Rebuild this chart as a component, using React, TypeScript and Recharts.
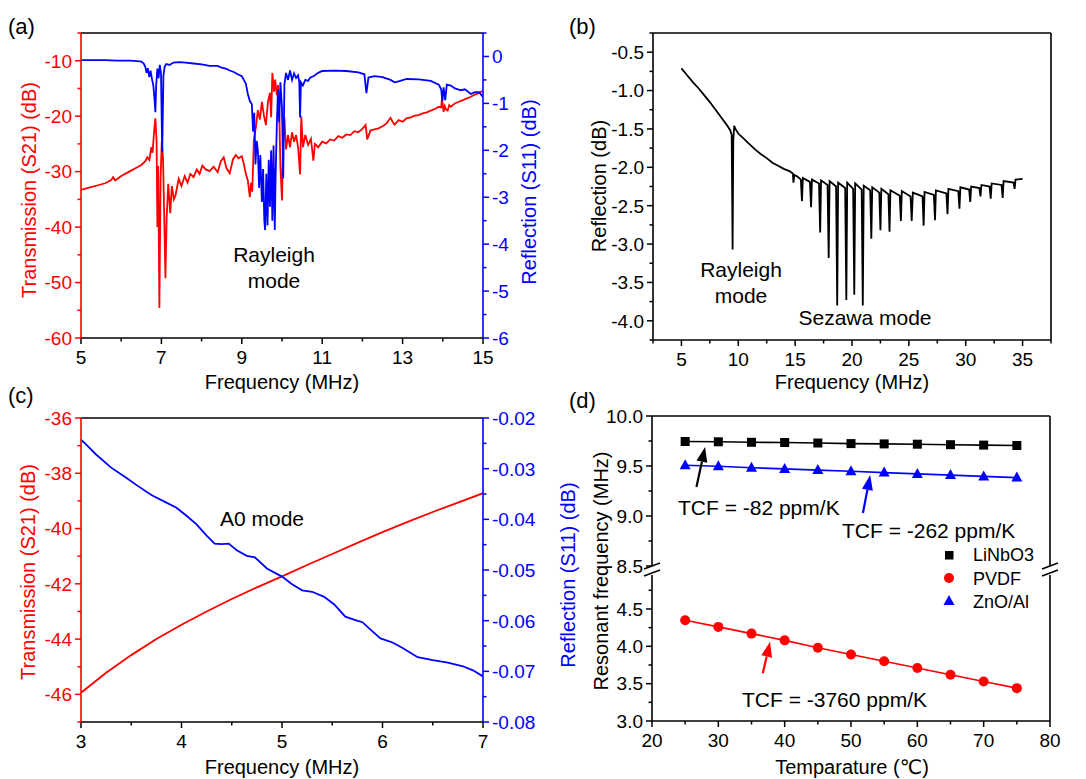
import React from 'react';
import { LineChart, Line, XAxis, YAxis, ReferenceLine } from 'recharts';

const FONT = '"Liberation Sans", Arial, Helvetica, "DejaVu Sans", "Noto Sans CJK SC", sans-serif';
const RED = '#ff0000';
const BLUE = '#0000ff';
const BLACK = '#000000';

// ---------- Panel (a): Transmission S21 / Reflection S11 (5-15 MHz) ----------
const aS21Points: [number, number][] = [
  [5.0,-33.3],[5.2,-32.9],[5.4,-32.5],[5.6,-32.1],[5.75,-31.5],[5.8,-31.0],[5.85,-31.6],[6.0,-30.8],[6.2,-30.0],[6.4,-29.2],
  [6.5,-28.8],[6.6,-28.1],[6.65,-27.4],[6.7,-27.9],[6.75,-25.6],[6.78,-26.6],[6.82,-22.6],[6.85,-20.4],[6.88,-24.5],[6.9,-40.0],
  [6.92,-29.0],[6.95,-54.6],[6.98,-31.0],[7.01,-24.5],[7.04,-27.5],[7.07,-38.0],[7.1,-49.2],[7.13,-38.5],[7.17,-32.2],[7.22,-37.5],
  [7.26,-32.6],[7.31,-35.0],[7.35,-34.3],[7.43,-31.3],[7.5,-32.6],[7.58,-30.8],[7.65,-32.0],[7.72,-30.4],[7.8,-31.0],[7.88,-29.6],
  [7.95,-30.4],[8.02,-28.9],[8.1,-29.6],[8.2,-29.9],[8.3,-29.1],[8.4,-30.1],[8.48,-28.1],[8.55,-27.4],[8.62,-29.4],[8.7,-30.3],
  [8.78,-27.8],[8.85,-27.0],[8.92,-27.6],[9.0,-27.2],[9.05,-28.6],[9.1,-30.4],[9.15,-31.6],[9.2,-34.6],[9.23,-32.0],[9.26,-33.6],
  [9.3,-24.2],[9.35,-22.0],[9.4,-18.9],[9.45,-20.6],[9.5,-17.4],[9.55,-19.9],[9.6,-21.6],[9.65,-17.4],[9.7,-15.8],[9.73,-20.2],
  [9.76,-12.2],[9.8,-15.6],[9.83,-13.4],[9.87,-16.2],[9.9,-14.4],[9.93,-18.6],[9.96,-29.0],[10.0,-35.2],[10.03,-24.0],[10.06,-20.3],
  [10.1,-26.0],[10.15,-23.4],[10.2,-25.6],[10.25,-22.9],[10.3,-24.6],[10.35,-23.4],[10.4,-25.6],[10.45,-30.5],[10.48,-20.0],[10.52,-25.6],
  [10.58,-23.4],[10.65,-25.2],[10.72,-24.1],[10.78,-28.0],[10.82,-25.0],[10.9,-25.6],[11.0,-24.6],[11.1,-24.9],[11.2,-24.2],[11.3,-24.4],
  [11.4,-23.6],[11.5,-23.9],[11.6,-23.3],[11.7,-23.4],[11.8,-22.7],[11.9,-22.9],[12.0,-22.3],[12.08,-21.6],[12.12,-24.2],[12.2,-22.6],
  [12.3,-22.4],[12.4,-22.2],[12.5,-21.8],[12.6,-21.3],[12.7,-20.3],[12.75,-21.0],[12.8,-21.5],[12.9,-20.7],[13.0,-21.0],[13.1,-20.4],
  [13.2,-20.2],[13.3,-19.9],[13.4,-19.8],[13.5,-19.5],[13.6,-19.3],[13.7,-19.0],[13.8,-18.7],[13.9,-18.3],[13.96,-18.4],[13.98,-16.8],
  [14.02,-19.2],[14.05,-18.2],[14.08,-18.8],[14.12,-19.0],[14.16,-18.0],[14.2,-18.3],[14.3,-17.7],[14.4,-17.4],[14.5,-17.1],[14.6,-16.8],
  [14.7,-16.5],[14.8,-16.1],[14.9,-15.8],[15.0,-15.4],
];
const aS11Points: [number, number][] = [
  [5.0,-0.08],[5.3,-0.08],[5.6,-0.08],[5.9,-0.09],[6.2,-0.09],[6.4,-0.1],[6.5,-0.11],[6.56,-0.15],[6.6,-0.22],[6.63,-0.35],
  [6.66,-0.25],[6.7,-0.44],[6.73,-0.3],[6.77,-0.5],[6.8,-0.62],[6.83,-0.92],[6.85,-1.19],[6.87,-0.62],[6.9,-0.26],[6.93,-0.46],
  [6.96,-0.18],[6.99,-0.36],[7.02,-2.04],[7.05,-0.42],[7.08,-0.22],[7.12,-0.16],[7.2,-0.18],[7.3,-0.13],[7.45,-0.12],[7.6,-0.13],
  [7.8,-0.15],[8.0,-0.17],[8.2,-0.2],[8.4,-0.2],[8.5,-0.24],[8.6,-0.26],[8.7,-0.3],[8.8,-0.33],[8.9,-0.38],[9.0,-0.42],
  [9.05,-0.5],[9.1,-0.58],[9.15,-0.8],[9.2,-0.95],[9.25,-1.02],[9.28,-1.6],[9.31,-1.2],[9.34,-2.3],[9.37,-1.8],[9.4,-2.0],
  [9.43,-2.8],[9.46,-2.1],[9.5,-3.1],[9.53,-2.4],[9.56,-3.5],[9.58,-3.7],[9.61,-2.5],[9.64,-3.6],[9.67,-2.2],[9.7,-3.2],
  [9.73,-2.0],[9.76,-3.5],[9.79,-1.9],[9.82,-3.7],[9.84,-2.6],[9.87,-1.5],[9.9,-0.7],[9.93,-1.4],[9.96,-0.55],[10.0,-1.1],
  [10.03,-2.6],[10.06,-0.6],[10.1,-0.35],[10.15,-0.5],[10.2,-0.3],[10.25,-0.5],[10.3,-0.36],[10.35,-0.46],[10.4,-0.4],[10.43,-0.55],
  [10.45,-1.3],[10.47,-0.55],[10.52,-0.62],[10.58,-0.5],[10.65,-0.52],[10.7,-0.45],[10.8,-0.41],[10.9,-0.35],[11.0,-0.31],[11.3,-0.3],
  [11.6,-0.31],[11.9,-0.34],[12.05,-0.38],[12.1,-0.78],[12.15,-0.45],[12.3,-0.42],[12.5,-0.44],[12.7,-0.5],[12.8,-0.55],[12.9,-0.53],
  [13.1,-0.48],[13.4,-0.49],[13.7,-0.52],[13.9,-0.6],[13.96,-0.7],[13.99,-0.95],[14.02,-0.66],[14.06,-0.93],[14.1,-0.6],[14.2,-0.62],
  [14.3,-0.68],[14.45,-0.72],[14.55,-0.7],[14.7,-0.8],[14.8,-0.76],[14.9,-0.76],[15.0,-0.86],
];
const aXTicks = [5, 6, 7, 8, 9, 10, 11, 12, 13, 14, 15];
const aXMajor = [5, 7, 9, 11, 13, 15];
const aLeftTicks = [-60, -55, -50, -45, -40, -35, -30, -25, -20, -15, -10, -5];
const aLeftMajor = [-60, -50, -40, -30, -20, -10];
const aRightTicks = [-6, -5.5, -5, -4.5, -4, -3.5, -3, -2.5, -2, -1.5, -1, -0.5, 0, 0.5];
const aRightMajor = [-6, -5, -4, -3, -2, -1, 0];

// ---------- Panel (b): Reflection (5-35 MHz) ----------
const bReflPoints: [number, number][] = [
  [5.0,-0.71],[5.5,-0.8],[6.0,-0.89],[6.5,-0.97],[7.0,-1.06],[7.5,-1.15],[8.0,-1.25],[8.5,-1.35],[9.0,-1.45],[9.3,-1.52],
  [9.42,-1.58],[9.5,-3.07],[9.56,-1.65],[9.64,-1.46],[9.75,-1.5],[10.0,-1.56],[10.5,-1.63],[11.0,-1.7],[11.5,-1.77],[12.0,-1.83],
  [12.5,-1.88],[13.0,-1.94],[13.5,-1.98],[14.0,-2.02],[14.5,-2.05],[14.8,-2.08],[14.85,-2.2],[14.92,-2.1],[15.2,-2.12],[15.5,-2.16],
  [15.6,-2.44],[15.68,-2.14],[16.3,-2.19],[16.4,-2.52],[16.48,-2.16],[17.1,-2.21],[17.2,-2.85],[17.28,-2.17],[17.85,-2.23],[17.95,-3.18],
  [18.03,-2.18],[18.6,-2.25],[18.7,-3.8],[18.78,-2.2],[19.4,-2.27],[19.5,-3.73],[19.58,-2.2],[20.1,-2.28],[20.2,-3.66],[20.28,-2.21],
  [20.85,-2.29],[20.95,-3.8],[21.03,-2.24],[21.6,-2.3],[21.7,-2.93],[21.78,-2.26],[22.4,-2.33],[22.5,-2.82],[22.58,-2.28],[23.2,-2.35],
  [23.3,-2.84],[23.38,-2.3],[24.2,-2.37],[24.3,-2.7],[24.38,-2.31],[25.15,-2.38],[25.25,-2.7],[25.35,-2.33],[26.2,-2.38],[26.3,-2.76],
  [26.38,-2.32],[27.2,-2.36],[27.3,-2.69],[27.38,-2.3],[28.3,-2.34],[28.4,-2.61],[28.48,-2.28],[29.35,-2.31],[29.45,-2.54],[29.53,-2.26],
  [30.3,-2.29],[30.4,-2.45],[30.48,-2.25],[31.2,-2.27],[31.3,-2.38],[31.38,-2.23],[32.1,-2.25],[32.2,-2.41],[32.28,-2.21],[33.15,-2.23],
  [33.25,-2.4],[33.33,-2.18],[34.2,-2.2],[34.3,-2.28],[34.38,-2.16],[35.0,-2.15],
];
const bXTicks = [2.5, 5, 7.5, 10, 12.5, 15, 17.5, 20, 22.5, 25, 27.5, 30, 32.5, 35, 37.5];
const bXMajor = [5, 10, 15, 20, 25, 30, 35];
const bYTicks = [-4.25, -4, -3.75, -3.5, -3.25, -3, -2.75, -2.5, -2.25, -2, -1.75, -1.5, -1.25, -1, -0.75, -0.5, -0.25];
const bYMajor = [-4, -3.5, -3, -2.5, -2, -1.5, -1, -0.5];

// ---------- Panel (c): A0 mode (3-7 MHz) ----------
const cS21Points: [number, number][] = [
  [3.0,-45.94],[3.25,-45.22],[3.5,-44.58],[3.75,-44.0],[4.0,-43.48],[4.25,-43.0],[4.5,-42.55],[4.75,-42.13],[5.0,-41.73],
  [5.25,-41.32],[5.5,-40.92],[5.75,-40.52],[6.0,-40.13],[6.25,-39.76],[6.5,-39.4],[6.75,-39.06],[7.0,-38.72],
];
const cS11Points: [number, number][] = [
  [3.0,-0.0243],[3.05,-0.0252],[3.15,-0.0272],[3.3,-0.0298],[3.45,-0.0318],[3.55,-0.0332],[3.7,-0.0352],[3.85,-0.0367],
  [3.95,-0.0377],[4.05,-0.0393],[4.15,-0.041],[4.25,-0.0432],[4.33,-0.0448],[4.4,-0.0449],[4.47,-0.0448],[4.55,-0.0461],
  [4.65,-0.0472],[4.73,-0.0475],[4.85,-0.0497],[5.0,-0.0513],[5.1,-0.0528],[5.2,-0.054],[5.3,-0.0543],[5.42,-0.0553],
  [5.52,-0.0568],[5.63,-0.0592],[5.73,-0.0599],[5.8,-0.0603],[5.9,-0.0621],[5.98,-0.0635],[6.1,-0.0643],[6.2,-0.0654],
  [6.35,-0.0672],[6.5,-0.0678],[6.65,-0.0683],[6.8,-0.069],[6.9,-0.0698],[7.0,-0.071],
];
const cXTicks = [3, 3.5, 4, 4.5, 5, 5.5, 6, 6.5, 7];
const cXMajor = [3, 4, 5, 6, 7];
const cLeftTicks = [-47, -46, -45, -44, -43, -42, -41, -40, -39, -38, -37, -36];
const cLeftMajor = [-46, -44, -42, -40, -38, -36];
const cRightTicks = [-0.08, -0.075, -0.07, -0.065, -0.06, -0.055, -0.05, -0.045, -0.04, -0.035, -0.03, -0.025, -0.02];
const cRightMajor = [-0.08, -0.07, -0.06, -0.05, -0.04, -0.03, -0.02];

// ---------- Panel (d): Resonant frequency vs temperature ----------
const dTemps = [25, 30, 35, 40, 45, 50, 55, 60, 65, 70, 75];
const dLiNbO3 = [9.745, 9.742, 9.737, 9.735, 9.730, 9.724, 9.721, 9.718, 9.713, 9.709, 9.705];
const dPVDF = [4.35, 4.26, 4.17, 4.08, 3.98, 3.89, 3.80, 3.71, 3.62, 3.53, 3.44];
const dZnOAl = [9.508, 9.497, 9.483, 9.471, 9.459, 9.447, 9.434, 9.421, 9.409, 9.396, 9.384];
const dSeriesNames = ['LiNbO3', 'PVDF', 'ZnO/Al'];
const dXTicks = [20, 25, 30, 35, 40, 45, 50, 55, 60, 65, 70, 75, 80];
const dXMajor = [20, 30, 40, 50, 60, 70, 80];
const dUpperTicks = [8.5, 8.75, 9, 9.25, 9.5, 9.75, 10];
const dUpperMajor = [8.5, 9, 9.5, 10];
const dLowerTicks = [3, 3.25, 3.5, 3.75, 4, 4.25, 4.5, 4.75];
const dLowerMajor = [3, 3.5, 4, 4.5];
// annotation arrows in data coordinates: [tailT, tailF, headT, headF]
const dArrowLi = [26.7, 9.29, 28.0, 9.69];
const dArrowZn = [51.8, 9.03, 52.9, 9.41];
const dArrowPv = [36.7, 3.64, 37.8, 4.06];

const toXY = (pts: [number, number][]) => pts.map(([f, v]) => ({ f, v }));
const aS21Data = toXY(aS21Points);
const aS11Data = toXY(aS11Points);
const bReflData = toXY(bReflPoints);
const cS21Data = toXY(cS21Points);
const cS11Data = toXY(cS11Points);
const dUpperData = dTemps.map((t, i) => ({ t, li: dLiNbO3[i], zn: dZnOAl[i] }));
const dLowerData = dTemps.map((t, i) => ({ t, pv: dPVDF[i] }));

type Orient = 'left' | 'right' | 'bottom';
function makeTick(orient: Orient, majors: number[], digits: number, color: string) {
  const TickShape = (props: any) => {
    const { x, y, payload } = props;
    const v = Number(payload && payload.value);
    const major = majors.some((m) => Math.abs(m - v) < 1e-6);
    const len = major ? 6 : 3.5;
    const label = major ? v.toFixed(digits) : '';
    const txt = { fill: color, fontSize: 19, fontFamily: FONT } as any;
    if (orient === 'left') {
      return (
        <g>
          <line x1={x} y1={y} x2={x - len} y2={y} stroke={color} strokeWidth={1.5} />
          {major ? <text x={x - 9} y={y} dy="0.36em" textAnchor="end" {...txt}>{label}</text> : null}
        </g>
      );
    }
    if (orient === 'right') {
      return (
        <g>
          <line x1={x} y1={y} x2={x + len} y2={y} stroke={color} strokeWidth={1.5} />
          {major ? <text x={x + 9} y={y} dy="0.36em" textAnchor="start" {...txt}>{label}</text> : null}
        </g>
      );
    }
    return (
      <g>
        <line x1={x} y1={y} x2={x} y2={y + len} stroke={color} strokeWidth={1.5} />
        {major ? <text x={x} y={y + 12} dy="0.72em" textAnchor="middle" {...txt}>{label}</text> : null}
      </g>
    );
  };
  return TickShape;
}

const makeArrow = (color: string) => (props: any) => {
  const { x1, y1, x2, y2 } = props;
  if ([x1, y1, x2, y2].some((n) => typeof n !== 'number' || isNaN(n))) return <g />;
  const ang = Math.atan2(y2 - y1, x2 - x1);
  const L = 15;
  const W = 5.5;
  const bx = x2 - L * Math.cos(ang);
  const by = y2 - L * Math.sin(ang);
  const px = -Math.sin(ang) * W;
  const py = Math.cos(ang) * W;
  return (
    <g>
      <line x1={x1} y1={y1} x2={bx} y2={by} stroke={color} strokeWidth={2.2} />
      <polygon points={`${x2},${y2} ${bx + px},${by + py} ${bx - px},${by - py}`} fill={color} />
    </g>
  );
};

const SquareDot = (props: any) => {
  const { cx, cy, index } = props;
  if (typeof cx !== 'number' || typeof cy !== 'number') return <g key={`s${index}`} />;
  return <rect key={`s${index}`} x={cx - 4.5} y={cy - 4.5} width={9} height={9} fill={BLACK} />;
};
const CircleDot = (props: any) => {
  const { cx, cy, index } = props;
  if (typeof cx !== 'number' || typeof cy !== 'number') return <g key={`c${index}`} />;
  return <circle key={`c${index}`} cx={cx} cy={cy} r={5} fill={RED} />;
};
const TriDot = (props: any) => {
  const { cx, cy, index } = props;
  if (typeof cx !== 'number' || typeof cy !== 'number') return <g key={`t${index}`} />;
  return <polygon key={`t${index}`} points={`${cx},${cy - 6} ${cx - 5.5},${cy + 4} ${cx + 5.5},${cy + 4}`} fill={BLUE} />;
};

const axisBlack = { stroke: BLACK, strokeWidth: 1.6 };
const axisRed = { stroke: RED, strokeWidth: 1.6 };
const axisBlue = { stroke: BLUE, strokeWidth: 1.6 };

const abs = (left: number, top: number): React.CSSProperties => ({ position: 'absolute', left, top });

function PanelA() {
  return (
    <div style={abs(0, 0)}>
      <LineChart width={540} height={390} margin={{ top: 33, right: 0, bottom: 0, left: 0 }}>
        <XAxis type="number" dataKey="f" domain={[5, 15]} ticks={aXTicks} interval={0} allowDataOverflow
          height={52} tickSize={0} tickMargin={0} tickLine={false} axisLine={axisBlack}
          tick={makeTick('bottom', aXMajor, 0, BLACK)} />
        <YAxis yAxisId="l" type="number" domain={[-60, -5]} ticks={aLeftTicks} interval={0} allowDataOverflow
          width={81} tickSize={0} tickMargin={0} tickLine={false} axisLine={axisRed}
          tick={makeTick('left', aLeftMajor, 0, RED)} />
        <YAxis yAxisId="r" orientation="right" type="number" domain={[-6, 0.5]} ticks={aRightTicks} interval={0} allowDataOverflow
          width={57} tickSize={0} tickMargin={0} tickLine={false} axisLine={axisBlue}
          tick={makeTick('right', aRightMajor, 0, BLUE)} />
        <ReferenceLine yAxisId="l" y={-5} stroke={BLACK} strokeWidth={1.6} />
        <Line yAxisId="l" data={aS21Data} dataKey="v" type="linear" stroke={RED} strokeWidth={1.8} dot={false} activeDot={false} isAnimationActive={false} />
        <Line yAxisId="r" data={aS11Data} dataKey="v" type="linear" stroke={BLUE} strokeWidth={1.8} dot={false} activeDot={false} isAnimationActive={false} />
      </LineChart>
    </div>
  );
}

function PanelB() {
  return (
    <div style={abs(540, 0)}>
      <LineChart width={546} height={390} margin={{ top: 33, right: 35, bottom: 0, left: 0 }}>
        <XAxis type="number" dataKey="f" domain={[2.5, 37.5]} ticks={bXTicks} interval={0} allowDataOverflow
          height={50} tickSize={0} tickMargin={0} tickLine={false} axisLine={axisBlack}
          tick={makeTick('bottom', bXMajor, 0, BLACK)} />
        <YAxis type="number" domain={[-4.25, -0.25]} ticks={bYTicks} interval={0} allowDataOverflow
          width={113} tickSize={0} tickMargin={0} tickLine={false} axisLine={axisBlack}
          tick={makeTick('left', bYMajor, 1, BLACK)} />
        <ReferenceLine y={-0.25} stroke={BLACK} strokeWidth={1.6} />
        <ReferenceLine x={37.5} stroke={BLACK} strokeWidth={1.6} />
        <Line data={bReflData} dataKey="v" type="linear" stroke={BLACK} strokeWidth={1.8} dot={false} activeDot={false} isAnimationActive={false} />
      </LineChart>
    </div>
  );
}

function PanelC() {
  return (
    <div style={abs(0, 380)}>
      <LineChart width={540} height={399} margin={{ top: 38, right: 0, bottom: 0, left: 0 }}>
        <XAxis type="number" dataKey="f" domain={[3, 7]} ticks={cXTicks} interval={0} allowDataOverflow
          height={57} tickSize={0} tickMargin={0} tickLine={false} axisLine={axisBlack}
          tick={makeTick('bottom', cXMajor, 0, BLACK)} />
        <YAxis yAxisId="l" type="number" domain={[-47, -36]} ticks={cLeftTicks} interval={0} allowDataOverflow
          width={81} tickSize={0} tickMargin={0} tickLine={false} axisLine={axisRed}
          tick={makeTick('left', cLeftMajor, 0, RED)} />
        <YAxis yAxisId="r" orientation="right" type="number" domain={[-0.08, -0.02]} ticks={cRightTicks} interval={0} allowDataOverflow
          width={57} tickSize={0} tickMargin={0} tickLine={false} axisLine={axisBlue}
          tick={makeTick('right', cRightMajor, 2, BLUE)} />
        <ReferenceLine yAxisId="l" y={-36} stroke={BLACK} strokeWidth={1.6} />
        <Line yAxisId="l" data={cS21Data} dataKey="v" type="linear" stroke={RED} strokeWidth={1.8} dot={false} activeDot={false} isAnimationActive={false} />
        <Line yAxisId="r" data={cS11Data} dataKey="v" type="linear" stroke={BLUE} strokeWidth={1.8} dot={false} activeDot={false} isAnimationActive={false} />
      </LineChart>
    </div>
  );
}

function PanelD() {
  return (
    <>
      <div style={abs(540, 380)}>
        <LineChart width={546} height={200} data={dUpperData} margin={{ top: 36, right: 36, bottom: 14, left: 0 }}>
          <XAxis type="number" dataKey="t" domain={[20, 80]} hide allowDataOverflow />
          <YAxis type="number" domain={[8.5, 10]} ticks={dUpperTicks} interval={0} allowDataOverflow
            width={112} tickSize={0} tickMargin={0} tickLine={false} axisLine={axisBlack}
            tick={makeTick('left', dUpperMajor, 1, BLACK)} />
          <ReferenceLine y={10} stroke={BLACK} strokeWidth={1.6} />
          <ReferenceLine x={80} stroke={BLACK} strokeWidth={1.6} />
          <Line dataKey="li" type="linear" stroke={BLACK} strokeWidth={1.6} dot={SquareDot} activeDot={false} isAnimationActive={false} />
          <Line dataKey="zn" type="linear" stroke={BLUE} strokeWidth={1.6} dot={TriDot} activeDot={false} isAnimationActive={false} />
          <ReferenceLine segment={[{ x: dArrowLi[0], y: dArrowLi[1] }, { x: dArrowLi[2], y: dArrowLi[3] }]} shape={makeArrow(BLACK)} />
          <ReferenceLine segment={[{ x: dArrowZn[0], y: dArrowZn[1] }, { x: dArrowZn[2], y: dArrowZn[3] }]} shape={makeArrow(BLUE)} />
        </LineChart>
      </div>
      <div style={abs(540, 570)}>
        <LineChart width={546} height={209} data={dLowerData} margin={{ top: 5, right: 36, bottom: 0, left: 0 }}>
          <XAxis type="number" dataKey="t" domain={[20, 80]} ticks={dXTicks} interval={0} allowDataOverflow
            height={58} tickSize={0} tickMargin={0} tickLine={false} axisLine={axisBlack}
            tick={makeTick('bottom', dXMajor, 0, BLACK)} />
          <YAxis type="number" domain={[3, 4.955]} ticks={dLowerTicks} interval={0} allowDataOverflow
            width={112} tickSize={0} tickMargin={0} tickLine={false} axisLine={axisBlack}
            tick={makeTick('left', dLowerMajor, 1, BLACK)} />
          <ReferenceLine x={80} stroke={BLACK} strokeWidth={1.6} />
          <Line dataKey="pv" type="linear" stroke={RED} strokeWidth={1.6} dot={CircleDot} activeDot={false} isAnimationActive={false} />
          <ReferenceLine segment={[{ x: dArrowPv[0], y: dArrowPv[1] }, { x: dArrowPv[2], y: dArrowPv[3] }]} shape={makeArrow(RED)} />
        </LineChart>
      </div>
    </>
  );
}

function Overlay() {
  const t = { fontFamily: FONT } as any;
  const rot = (x: number, y: number, s: string, color: string) => (
    <text x={x} y={y} dy="0.36em" textAnchor="middle" fontSize={20} fill={color} transform={`rotate(-90 ${x} ${y})`} {...t}>{s}</text>
  );
  const brk = (x: number, y: number) => (
    <g>
      <polygon points={`${x - 8},${y + 1} ${x + 8},${y - 5} ${x + 8},${y + 2} ${x - 8},${y + 8}`} fill="#fff" />
      <line x1={x - 8} y1={y + 1} x2={x + 8} y2={y - 5} stroke={BLACK} strokeWidth={1.5} />
      <line x1={x - 8} y1={y + 8} x2={x + 8} y2={y + 2} stroke={BLACK} strokeWidth={1.5} />
    </g>
  );
  return (
    <svg width={1086} height={779} style={{ position: 'absolute', left: 0, top: 0, pointerEvents: 'none' }}>
      {/* panel labels */}
      <text x={8} y={34} fontSize={22} fill={BLACK} {...t}>(a)</text>
      <text x={569} y={34} fontSize={22} fill={BLACK} {...t}>(b)</text>
      <text x={8} y={403} fontSize={22} fill={BLACK} {...t}>(c)</text>
      <text x={569} y={408} fontSize={22} fill={BLACK} {...t}>(d)</text>
      {/* axis titles */}
      <text x={282} y={389} textAnchor="middle" fontSize={20} fill={BLACK} {...t}>Frequency (MHz)</text>
      <text x={852} y={389} textAnchor="middle" fontSize={20} fill={BLACK} {...t}>Frequency (MHz)</text>
      <text x={282} y={774} textAnchor="middle" fontSize={20} fill={BLACK} {...t}>Frequency (MHz)</text>
      <text x={852} y={774} textAnchor="middle" fontSize={20} fill={BLACK} {...t}>Temparature (℃)</text>
      {rot(29, 190, 'Transmission (S21) (dB)', RED)}
      {rot(529, 192, 'Reflection (S11) (dB)', BLUE)}
      {rot(599, 186, 'Reflection (dB)', BLACK)}
      {rot(28, 572, 'Transmission (S21) (dB)', RED)}
      {rot(568, 575, 'Reflection (S11) (dB)', BLUE)}
      {rot(601, 571, 'Resonant frequency (MHz)', BLACK)}
      {/* annotations */}
      <text x={274} y={262} textAnchor="middle" fontSize={21} fill={BLACK} {...t}>Rayleigh</text>
      <text x={274} y={288} textAnchor="middle" fontSize={21} fill={BLACK} {...t}>mode</text>
      <text x={741} y={277} textAnchor="middle" fontSize={21} fill={BLACK} {...t}>Rayleigh</text>
      <text x={741} y={303} textAnchor="middle" fontSize={21} fill={BLACK} {...t}>mode</text>
      <text x={865} y={325} textAnchor="middle" fontSize={21} fill={BLACK} {...t}>Sezawa mode</text>
      <text x={262} y={526} textAnchor="middle" fontSize={21} fill={BLACK} {...t}>A0 mode</text>
      <text x={678} y={515} fontSize={21} fill={BLACK} {...t}>TCF = -82 ppm/K</text>
      <text x={842} y={538} fontSize={21} fill={BLACK} {...t}>TCF = -262 ppm/K</text>
      <text x={742} y={707} fontSize={21} fill={BLACK} {...t}>TCF = -3760 ppm/K</text>
      {/* axis breaks */}
      {brk(652, 568)}
      {brk(1050, 568)}
      {/* legend */}
      <rect x={945} y={551} width={8.5} height={8.5} fill={BLACK} />
      <circle cx={949} cy={578} r={5} fill={RED} />
      <polygon points="949,595 943.5,605 954.5,605" fill={BLUE} />
      <text x={973} y={561} fontSize={18} fill={BLACK} {...t}>{dSeriesNames[0]}</text>
      <text x={973} y={585} fontSize={18} fill={BLACK} {...t}>{dSeriesNames[1]}</text>
      <text x={973} y={608} fontSize={18} fill={BLACK} {...t}>{dSeriesNames[2]}</text>
    </svg>
  );
}

export default function App() {
  return (
    <div style={{ position: 'absolute', left: 0, top: 0, width: 1086, height: 779, background: '#fff', fontFamily: FONT }}>
      <PanelA />
      <PanelB />
      <PanelC />
      <PanelD />
      <Overlay />
    </div>
  );
}
